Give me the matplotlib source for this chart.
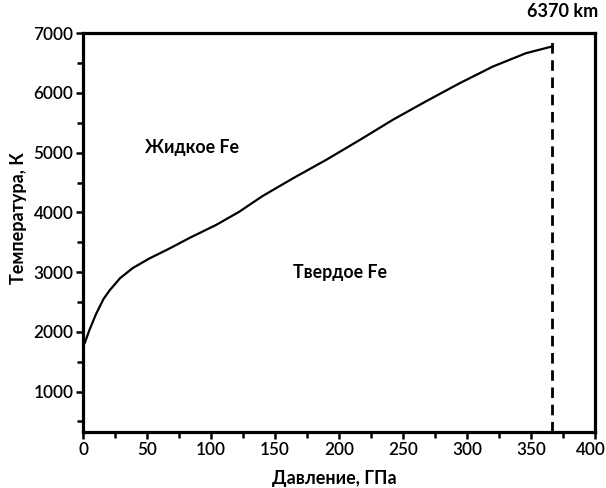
import matplotlib
matplotlib.use('Agg')
import matplotlib.pyplot as plt
from matplotlib.ticker import MultipleLocator, FuncFormatter

plt.rcParams['font.family'] = ['Lato', 'DejaVu Sans']

# melting curve of iron
pressure = [0, 1.3, 5, 10, 16, 21, 29, 39, 52, 68, 83, 104, 122, 140,
            164, 190, 216, 242, 268, 294, 320, 346, 366]
temperature = [1770, 1810, 2030, 2290, 2550, 2700, 2900, 3070, 3230, 3400,
               3570, 3790, 4010, 4270, 4570, 4880, 5210, 5550, 5860, 6160,
               6440, 6665, 6775]

center_pressure = 366
center_top = 6850
center_label = '6370 km'
regions = [('Жидкое Fe', 85, 5080), ('Твердое Fe', 201, 2990)]
x_max = 400

fig = plt.figure(figsize=(6.06, 4.88), dpi=100)
ax = fig.add_axes([0.137, 0.115, 0.845, 0.817])

ax.plot(pressure, temperature, color='black', lw=1.6,
        solid_joinstyle='round')
ax.plot([center_pressure, center_pressure], [325, center_top],
        color='black', lw=2, dashes=(3.8, 2.4))

for text, x, y in regions:
    ax.text(x, y, text, ha='center', va='center', fontsize=12.8,
            fontweight='bold')

ax.text(center_pressure + 9, 7220, center_label, ha='center', va='bottom',
        fontsize=13, fontweight='bold')

ax.set_xlim(0, x_max)
ax.set_ylim(325, 7000)
ax.xaxis.set_major_locator(MultipleLocator(50))
ax.xaxis.set_minor_locator(MultipleLocator(25))
# last label is drawn by hand a little to the left so it is not cut
ax.xaxis.set_major_formatter(
    FuncFormatter(lambda v, p: '' if v >= x_max else f'{v:.0f}'))
ax.set_yticks(range(1000, 7001, 1000))
ax.yaxis.set_minor_locator(MultipleLocator(500))

for s in ax.spines.values():
    s.set_linewidth(2.3)
ax.tick_params(which='major', length=5, width=1.8, labelsize=12.3,
               direction='out', pad=2)
ax.tick_params(which='minor', length=4, width=1.8, direction='out')
for lab in ax.get_xticklabels() + ax.get_yticklabels():
    lab.set_fontweight('semibold')

ax.annotate(f'{x_max}', xy=(x_max, 0), xycoords=('data', 'axes fraction'),
            xytext=(-3, -7.2), textcoords='offset points', ha='center',
            va='top', fontsize=12.3, fontweight='semibold')

ax.set_xlabel('Давление, ГПа', fontsize=13, fontweight='bold')
ax.set_ylabel('Температура, К', fontsize=13, fontweight='bold')
ax.xaxis.set_label_coords(0.49, -0.095)
ax.yaxis.set_label_coords(-0.11, 0.535)

plt.savefig('out.png', dpi=100)
